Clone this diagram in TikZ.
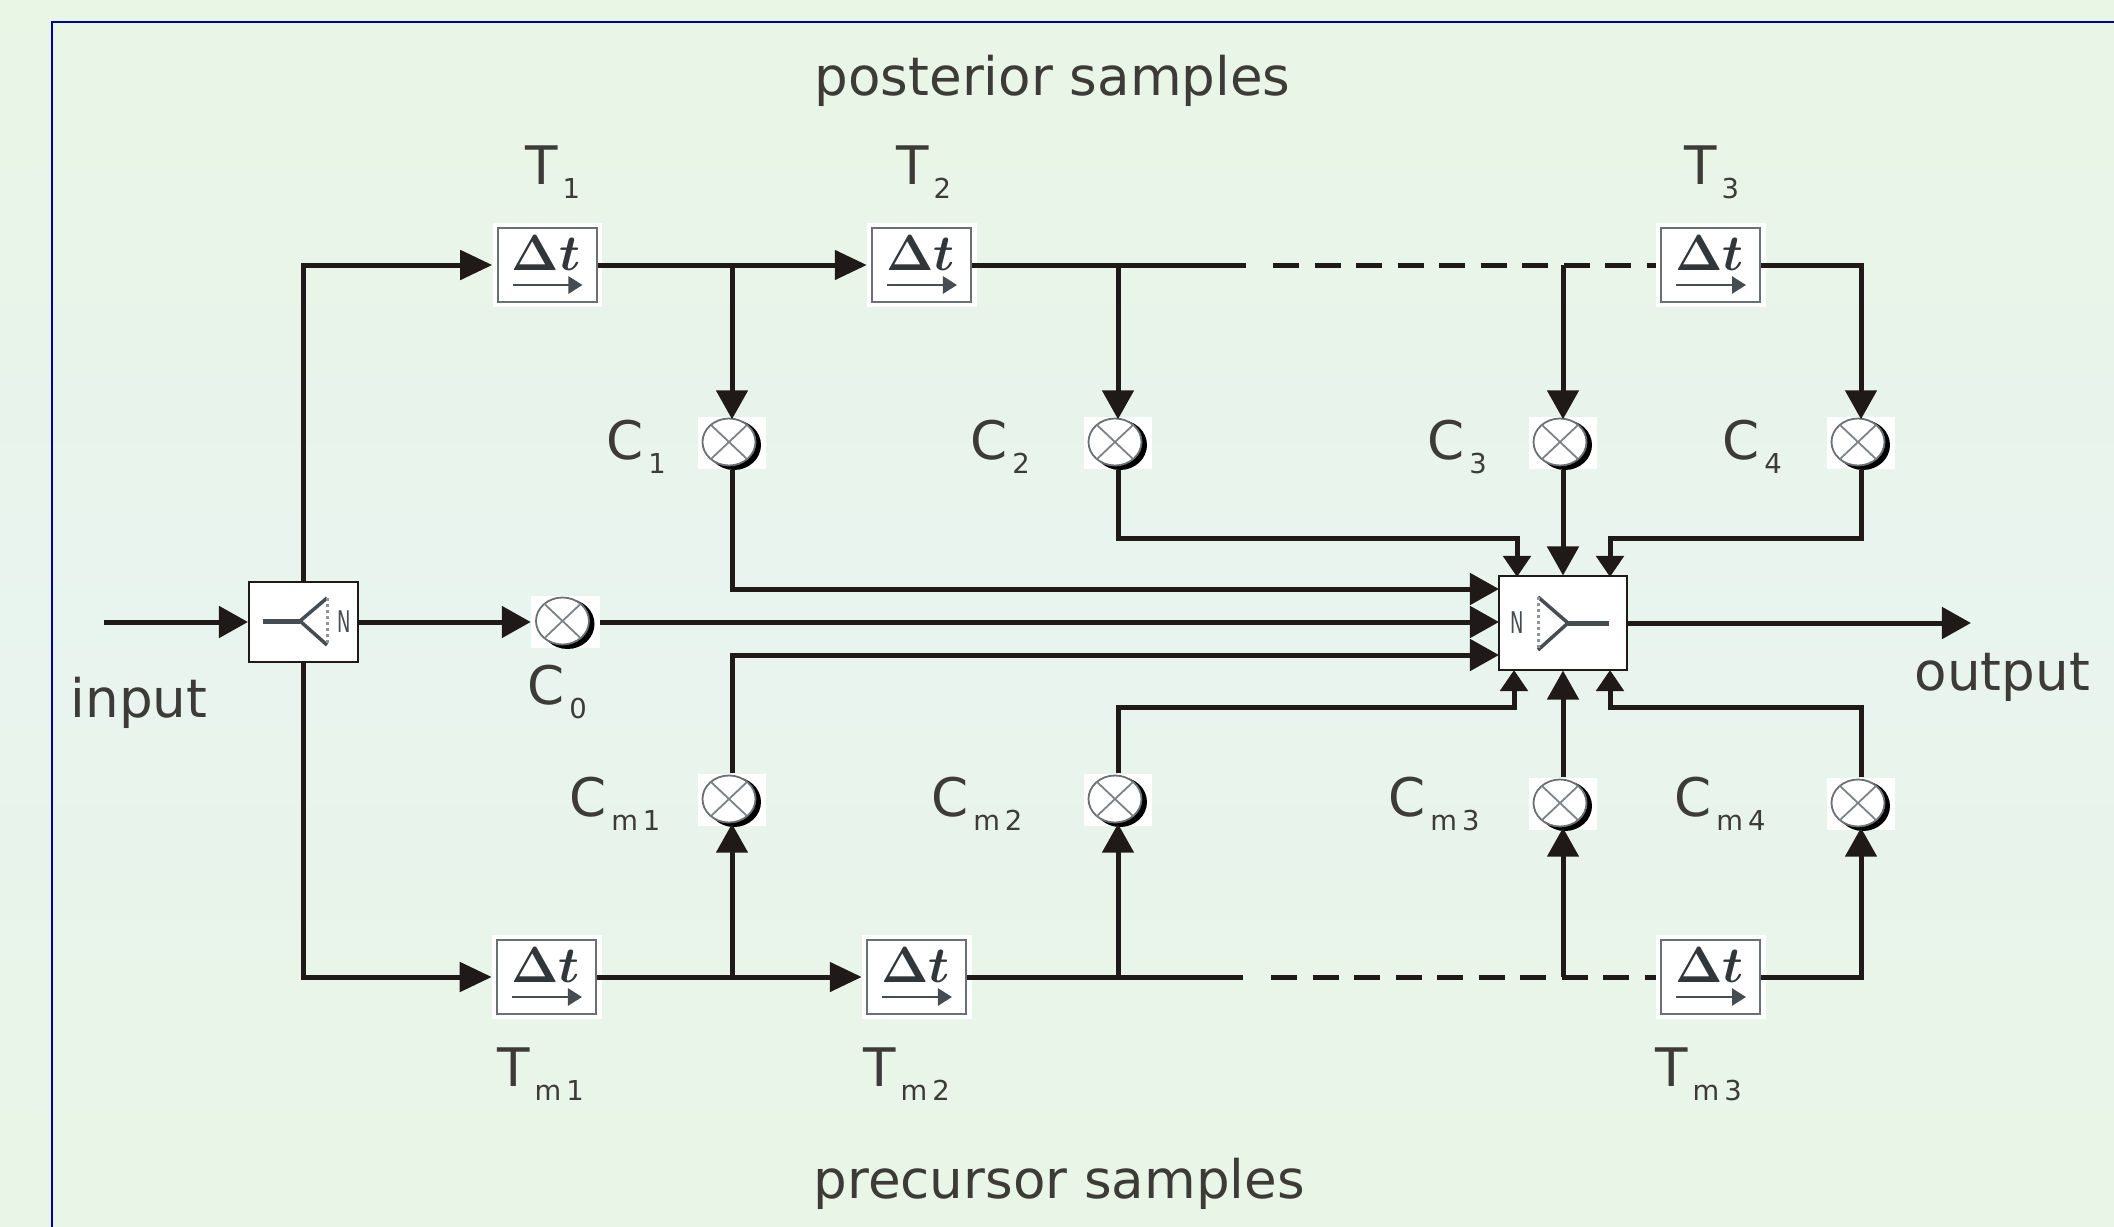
\documentclass[tikz,border=0pt]{standalone}
\usepackage{amsmath}
\usepackage{xcolor}
\usepackage{fontspec}
\setmainfont{DejaVu Sans}
\usetikzlibrary{arrows.meta}
\definecolor{wirecol}{HTML}{1F1A17}
\definecolor{txtcol}{HTML}{3C3B37}
\definecolor{glyphcol}{HTML}{454D52}
\definecolor{framecol}{HTML}{0000A0}
\newcommand{\sublab}[2]{#1\hspace{.045cm}\raisebox{-.14cm}{\fontsize{7.8}{9}\selectfont #2}}

\begin{document}
\begin{tikzpicture}[x=0.01cm,y=-0.01cm,
		lab/.style={anchor=base west,inner sep=0pt,text=txtcol,font=\fontsize{15.1}{18}\selectfont},
		nlab/.style={inner sep=0pt,text=glyphcol,font=\fontsize{8.5}{10}\selectfont},
		delaybox/.style={fill=white,inner sep=0pt,minimum width=1.09cm,minimum height=.83cm,
			path picture={
				\begin{scope}[shift={(path picture bounding box.center)}]
					\draw[glyphcol!80,line width=.02cm] (-50,-37) rectangle (49,37);
					\draw[glyphcol,line width=.025cm,-{Triangle[length=.14cm,width=.17cm]}] (-35,20) -- (35,20);
				\end{scope}
			}},
		deltatext/.style={inner sep=0pt,text=glyphcol!70!black,font=\fontsize{14.5}{16}\selectfont},
		multbox/.style={fill=white,inner sep=0pt,minimum width=.68cm,minimum height=.52cm,
			path picture={
				\begin{scope}[shift={(path picture bounding box.center)}]
					\fill[black] (2,2) ellipse (27 and 25);
					\draw[fill=white,draw=glyphcol!80,line width=.018cm] (-3,-1) ellipse (26.5 and 23.5);
					\draw[glyphcol!70,line width=.018cm] (-21,-18) -- (15,16) (-21,16) -- (15,-18);
				\end{scope}
			}},
		mixbox/.style={draw=wirecol,line width=.02cm,fill=white,inner sep=0pt},
		vh/.style={to path={|- (\tikztotarget) \tikztonodes}},
		hv/.style={to path={-| (\tikztotarget) \tikztonodes}},
		fromdelay/.style={shorten <=-.05cm},
		tomult/.style={shorten >=-.03cm},
		dashwire/.style={-,dash pattern=on .26cm off .155cm},
		bigtip/.style={-{Triangle[length=.32cm,width=.29cm]}},
		midtip/.style={-{Triangle[length=.29cm,width=.31cm]}},
		smalltip/.style={-{Triangle[length=.21cm,width=.27cm]}}]
		% page and frame
		\useasboundingbox (0,0) rectangle (2114,1227);
		\shade[top color={rgb,255:red,233;green,245;blue,229},bottom color={rgb,255:red,233;green,245;blue,230},middle color={rgb,255:red,232;green,244;blue,238}] (0,0) rectangle (2114,1227);
		\draw[framecol,line width=.02cm] (52,1227) |- (2114,22);
		%
		\node[delaybox] (T1) at (547.5,265) {};
		\node[delaybox] (T2) at (922,265) {};
		\node[delaybox] (T3) at (1711,265) {};
		\node[delaybox] (Tm1) at (547,977) {};
		\node[delaybox] (Tm2) at (917,977) {};
		\node[delaybox] (Tm3) at (1711,977) {};
		\node[deltatext] (DT1) at (546,253) {$\boldsymbol{\Delta t}$};
		\node[deltatext] (DT2) at (920.5,253) {$\boldsymbol{\Delta t}$};
		\node[deltatext] (DT3) at (1709.5,253) {$\boldsymbol{\Delta t}$};
		\node[deltatext] (DTm1) at (545.5,965) {$\boldsymbol{\Delta t}$};
		\node[deltatext] (DTm2) at (915.5,965) {$\boldsymbol{\Delta t}$};
		\node[deltatext] (DTm3) at (1709.5,965) {$\boldsymbol{\Delta t}$};
		%
		\node[multbox] (C0) at (565.5,622) {};
		\node[multbox] (C1) at (732,443) {};
		\node[multbox] (C2) at (1118,443) {};
		\node[multbox] (C3) at (1563,443) {};
		\node[multbox] (C4) at (1861,443) {};
		\node[multbox] (Cm1) at (732,800) {};
		\node[multbox] (Cm2) at (1118,800) {};
		\node[multbox] (Cm3) at (1563,804) {};
		\node[multbox] (Cm4) at (1861,804) {};
		%
		\node[mixbox,minimum width=1.09cm,minimum height=.8cm] (Split) at (303.5,622) {};
		\node[mixbox,minimum width=1.28cm,minimum height=.93cm] (Join) at (1563,623) {};
		\draw[glyphcol,line width=.05cm] (263,621) -- (300,621);
		\draw[glyphcol,line width=.035cm] (327,598) -- (300,621) -- (327,645);
		\draw[glyphcol!60,line width=.03cm,dash pattern=on .03cm off .03cm] (327,598) -- (327,645);
		\node[nlab] (SplitN) at (344,622) {\scalebox{.6}[1]{N}};
		\draw[glyphcol,line width=.05cm] (1609,623) -- (1568,623);
		\draw[glyphcol,line width=.035cm] (1538,597) -- (1568,623) -- (1538,650);
		\draw[glyphcol!60,line width=.03cm,dash pattern=on .03cm off .03cm] (1538,597) -- (1538,650);
		\node[nlab] (JoinN) at (1517,623) {\scalebox{.6}[1]{N}};
		%
		\coordinate (In) at (104,622);
		\coordinate (Out) at (1971,623);
		\coordinate (B1) at (732,265);
		\coordinate (B2) at (1118,265);
		\coordinate (B3) at (1563,265);
		\coordinate (Bm1) at (732,977);
		\coordinate (Bm2) at (1118,977);
		\coordinate (Bm3) at (1563,977);
		\coordinate (E) at (1246,265);
		\coordinate (D) at (1273,265);
		\coordinate (Em) at (1243,977);
		\coordinate (Dm) at (1271,977);
		\coordinate (J1) at (1499,589);
		\coordinate (J0) at (1499,622);
		\coordinate (Jm1) at (1499,655);
		\coordinate (Jt) at (1517,577);
		\coordinate (Jtr) at (1610,577);
		\coordinate (Jb) at (1514,670);
		\coordinate (Jbr) at (1610,670);
		\coordinate (K2) at (1118,538);
		\coordinate (Kt) at (1517,538);
		\coordinate (K4) at (1861,538);
		\coordinate (Ktr) at (1610,538);
		\coordinate (Km2) at (1118,707);
		\coordinate (Kb) at (1514,707);
		\coordinate (Km4) at (1861,707);
		\coordinate (Kbr) at (1610,707);
		%
		\path[wirecol,line width=.05cm,midtip]
		% horizontal arrows
		(In) edge (Split)
		(Split) edge (C0)
		(C0) edge (J0)
		(Join) edge (Out)
		(T1) edge[bigtip,fromdelay] (T2)
		(Tm1) edge[bigtip,fromdelay] (Tm2)
		(T2) edge[-,fromdelay] (E)
		(Tm2) edge[-,fromdelay] (Em)
		(D) edge[dashwire] (T3)
		(Dm) edge[dashwire] (Tm3)
		% up and down from the lines
		(B1) edge[tomult] (C1)
		(B2) edge[tomult] (C2)
		(B3) edge[tomult] (C3)
		(Bm1) edge[tomult] (Cm1)
		(Bm2) edge[tomult] (Cm2)
		(Bm3) edge[tomult] (Cm3)
		(T3) edge[hv,fromdelay,tomult] (C4)
		(Tm3) edge[hv,fromdelay,tomult] (Cm4)
		(Split) edge[vh,bigtip] (T1)
		(Split) edge[vh,bigtip] (Tm1)
		% into the combiner
		(C1) edge[vh] (J1)
		(Cm1) edge[vh] (Jm1)
		(C3) edge (Join)
		(Cm3) edge (Join);
		%
		\draw[wirecol,line width=.05cm,smalltip] (C2) -- (K2) -- (Kt) -- (Jt);
		\draw[wirecol,line width=.05cm,smalltip] (C4) -- (K4) -- (Ktr) -- (Jtr);
		\draw[wirecol,line width=.05cm,smalltip] (Cm2) -- (Km2) -- (Kb) -- (Jb);
		\draw[wirecol,line width=.05cm,smalltip] (Cm4) -- (Km4) -- (Kbr) -- (Jbr);
		%
		\node[lab] (LTop) at (814,95) {posterior samples};
		\node[lab] (LBot) at (813,1198) {precursor samples};
		\node[lab] (LIn) at (70,717) {input};
		\node[lab] (LOut) at (1914,690) {output};
		\node[lab] (LT1) at (525,184) {\sublab{T}{1}};
		\node[lab] (LT2) at (896,184) {\sublab{T}{2}};
		\node[lab] (LT3) at (1684,184) {\sublab{T}{3}};
		\node[lab] (LC0) at (527,704) {\sublab{C}{0}};
		\node[lab] (LC1) at (606,459) {\sublab{C}{1}};
		\node[lab] (LC2) at (970,459) {\sublab{C}{2}};
		\node[lab] (LC3) at (1427,459) {\sublab{C}{3}};
		\node[lab] (LC4) at (1722,459) {\sublab{C}{4}};
		\node[lab] (LCm1) at (569,816) {\sublab{C}{m\hspace{.05cm}1}};
		\node[lab] (LCm2) at (931,816) {\sublab{C}{m\hspace{.05cm}2}};
		\node[lab] (LCm3) at (1388,816) {\sublab{C}{m\hspace{.05cm}3}};
		\node[lab] (LCm4) at (1674,816) {\sublab{C}{m\hspace{.05cm}4}};
		\node[lab] (LTm1) at (497,1086) {\sublab{T}{m\hspace{.05cm}1}};
		\node[lab] (LTm2) at (863,1086) {\sublab{T}{m\hspace{.05cm}2}};
		\node[lab] (LTm3) at (1655,1086) {\sublab{T}{m\hspace{.05cm}3}};
	\end{tikzpicture}
\end{document}
